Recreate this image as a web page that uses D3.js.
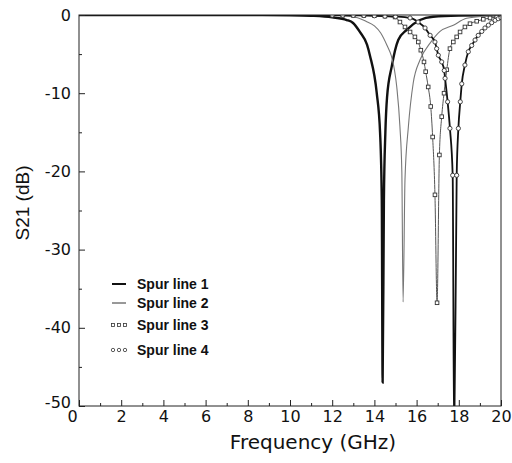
<!DOCTYPE html>
<html lang="en">
<head>
    <meta charset="UTF-8">
    <title>S21 spur lines</title>
    <script src="https://cdnjs.cloudflare.com/ajax/libs/d3/7.8.5/d3.min.js"></script>
    <style>
        body { margin: 0; background: #fff; }
        svg { display: block; }
    </style>
</head>
<body>
    <div id="wrapper"></div>
    <script>
        // values: [frequency GHz, S21 dB]
        const spurLine1 = [
            [0, 0], [8, 0], [10, -0.03], [11, -0.1], [12, -0.3], [12.69, -0.64], [12.99, -1.02],
            [13.32, -2.2], [13.65, -3.8], [13.79, -5.2], [14.11, -9.97], [14.27, -15.1], [14.35, -23.7],
            [14.39, -47], [14.45, -23.7], [14.52, -15], [14.6, -10.5], [14.82, -6.6], [15.13, -3.2],
            [15.53, -1.9], [16.16, -0.64], [16.78, -0.22], [18, -0.08], [20, -0.03]
        ]
        const spurLine2 = [
            [0, 0], [10, 0], [12, -0.05], [12.5, -0.1], [13.2, -0.35], [13.6, -0.8], [14.0, -1.4],
            [14.3, -2.3], [14.6, -3.9], [14.8, -5.2], [14.95, -7], [15.06, -9.2], [15.21, -14.3],
            [15.3, -20], [15.36, -36.7], [15.45, -21], [15.61, -14.3], [15.84, -8.7], [16.16, -5.75],
            [16.64, -3.6], [17.11, -2.1], [17.74, -1.3], [18.37, -0.42], [19.32, -0.13], [20, -0.05]
        ]
        const spurLine3 = [
            [0, 0], [10, 0], [12, -0.02], [12.5, -0.03], [13, -0.04], [13.5, -0.06], [14, -0.08],
            [14.5, -0.15], [14.98, -0.26], [15.21, -0.9], [15.45, -1.53], [15.69, -2.17], [15.92, -2.8],
            [16.08, -3.45], [16.2, -4.5], [16.35, -6.0], [16.43, -7.25], [16.55, -9.2], [16.67, -11.7],
            [16.76, -15.6], [16.87, -23.0], [16.97, -36.8], [17.08, -17.9], [17.19, -13.0], [17.3, -10.0],
            [17.43, -7.0], [17.58, -4.3], [17.74, -3.45], [17.9, -2.8], [18.06, -2.17], [18.29, -1.53],
            [18.53, -1.11], [18.85, -0.8], [19.16, -0.55], [19.48, -0.38], [19.8, -0.26], [20, -0.2]
        ]
        const spurLine4 = [
            [0, 0], [10, 0], [12, -0.02], [12.5, -0.03], [13, -0.05], [13.5, -0.07], [14, -0.1],
            [14.5, -0.15], [15, -0.2], [15.69, -0.38], [16.07, -0.9], [16.4, -1.66], [16.64, -2.6],
            [16.87, -3.45], [16.95, -4.3], [17.03, -5.15], [17.19, -6.0], [17.31, -7.1], [17.35, -8.1],
            [17.47, -11.1], [17.58, -14.5], [17.71, -20.5], [17.78, -55], [17.9, -20.5], [17.98, -14.5],
            [18.07, -11.1], [18.14, -8.8], [18.29, -6.4], [18.45, -4.7], [18.61, -3.9], [18.77, -3.2],
            [18.92, -2.6], [19.09, -2.1], [19.24, -1.66], [19.4, -1.3], [19.56, -0.98], [19.72, -0.68],
            [19.87, -0.47], [20, -0.35]
        ]
        const seriesNames = ['Spur line 1', 'Spur line 2', 'Spur line 3', 'Spur line 4']
        const xTickValues = [0, 2, 4, 6, 8, 10, 12, 14, 16, 18, 20]
        const xMinorValues = [1, 3, 5, 7, 9, 11, 13, 15, 17, 19]
        const yTickValues = [0, -10, -20, -30, -40, -50]
        const yMinorValues = [-5, -15, -25, -35, -45]

        const styles = [
            { stroke: '#111', width: 2.4, marker: null },
            { stroke: '#777', width: 1.1, marker: null },
            { stroke: '#555', width: 1, marker: 'square' },
            { stroke: '#111', width: 1.8, marker: 'circle' }
        ]
        const allSeries = [spurLine1, spurLine2, spurLine3, spurLine4]

        const dimensions = {
            width: 512,
            height: 463,
            margin: { top: 15, right: 11, bottom: 57, left: 79 }
        }
        dimensions.boundedWidth = dimensions.width - dimensions.margin.left - dimensions.margin.right
        dimensions.boundedHeight = dimensions.height - dimensions.margin.top - dimensions.margin.bottom

        const svg = d3.select('#wrapper').append('svg')
            .attr('width', dimensions.width)
            .attr('height', dimensions.height)

        const bounds = svg.append('g')
            .attr('transform', `translate(${dimensions.margin.left},${dimensions.margin.top})`)

        const xScale = d3.scaleLinear().domain([0, 20]).range([0, dimensions.boundedWidth])
        const yScale = d3.scaleLinear().domain([-50, 0]).range([dimensions.boundedHeight, 0])

        bounds.append('clipPath').attr('id', 'plot-clip')
            .append('rect')
            .attr('width', dimensions.boundedWidth)
            .attr('height', dimensions.boundedHeight)

        // curves
        const lineGen = d3.line()
            .x(d => xScale(d[0]))
            .y(d => yScale(d[1]))
            .curve(d3.curveMonotoneX)

        const plot = bounds.append('g').attr('clip-path', 'url(#plot-clip)')

        allSeries.forEach((data, i) => {
            plot.append('path')
                .datum(data)
                .attr('d', lineGen)
                .attr('fill', 'none')
                .attr('stroke', styles[i].stroke)
                .attr('stroke-width', styles[i].width)
        })

        // markers (only where the sweep is drawn with symbols)
        const markerData = (data) => data.filter(d => d[0] >= 11.5)
        plot.append('g').selectAll('rect')
            .data(markerData(spurLine3))
            .join('rect')
            .attr('x', d => xScale(d[0]) - 1.8)
            .attr('y', d => yScale(d[1]) - 1.8)
            .attr('width', 3.6)
            .attr('height', 3.6)
            .attr('fill', '#fff')
            .attr('stroke', '#333')
            .attr('stroke-width', 0.9)
        plot.append('g').selectAll('circle')
            .data(markerData(spurLine4))
            .join('circle')
            .attr('cx', d => xScale(d[0]))
            .attr('cy', d => yScale(d[1]))
            .attr('r', 2.1)
            .attr('fill', '#fff')
            .attr('stroke', '#333')
            .attr('stroke-width', 0.9)

        // frame
        bounds.append('rect')
            .attr('width', dimensions.boundedWidth)
            .attr('height', dimensions.boundedHeight)
            .attr('fill', 'none')
            .attr('stroke', '#222')
            .attr('stroke-width', 1)

        // axes (ticks point inwards), plain hyphen for negatives
        const tickFont = "'DejaVu Sans', sans-serif"
        const plainFormat = d => String(d)
        const xAxisMinor = bounds.append('g')
            .attr('transform', `translate(0,${dimensions.boundedHeight})`)
            .call(d3.axisBottom(xScale).tickValues(xMinorValues).tickSize(-3).tickFormat(''))
        const xAxis = bounds.append('g')
            .attr('transform', `translate(0,${dimensions.boundedHeight})`)
            .call(d3.axisBottom(xScale).tickValues(xTickValues).tickSize(-6).tickPadding(5).tickFormat(plainFormat))
        const yAxisMinor = bounds.append('g')
            .call(d3.axisLeft(yScale).tickValues(yMinorValues).tickSize(-3).tickFormat(''))
        const yAxis = bounds.append('g')
            .call(d3.axisLeft(yScale).tickValues(yTickValues).tickSize(-6).tickPadding(8).tickFormat(plainFormat))

        ;[xAxisMinor, xAxis, yAxisMinor, yAxis].forEach(ax => {
            ax.select('.domain').remove()
            ax.selectAll('line').attr('stroke', '#222')
            ax.selectAll('text')
                .attr('fill', '#111')
                .style('font-family', tickFont)
                .style('font-size', '16px')
        })
        // the "0" on the frequency axis sits a little left of its tick
        xAxis.selectAll('text').filter(d => d === 0).attr('dx', -7)
        // "-50" sits slightly above its tick
        yAxis.selectAll('text').filter(d => d === -50).attr('dy', '0.1em')

        // axis titles
        svg.append('text')
            .attr('x', 313)
            .attr('y', 449)
            .attr('text-anchor', 'middle')
            .style('font-family', tickFont)
            .style('font-size', '20px')
            .attr('fill', '#111')
            .text('Frequency (GHz)')

        svg.append('text')
            .attr('transform', 'translate(29,203) rotate(-90)')
            .attr('text-anchor', 'middle')
            .style('font-family', "'Liberation Sans', Arial, sans-serif")
            .style('font-size', '19px')
            .attr('fill', '#111')
            .text('S21 (dB)')

        // legend
        const legendRows = [284, 303, 325, 350]
        const legend = svg.append('g')
        seriesNames.forEach((name, i) => {
            const row = legend.append('g').attr('transform', `translate(112,${legendRows[i]})`)
            const st = styles[i]
            if (st.marker === 'square') {
                [1, 7, 13].forEach(x => row.append('rect')
                    .attr('x', x - 1.5).attr('y', -1.5).attr('width', 3).attr('height', 3)
                    .attr('fill', '#fff').attr('stroke', '#333').attr('stroke-width', 0.8))
            } else if (st.marker === 'circle') {
                [1, 7, 13].forEach(x => row.append('circle')
                    .attr('cx', x).attr('cy', 0).attr('r', 1.7)
                    .attr('fill', '#fff').attr('stroke', '#333').attr('stroke-width', 0.8))
            } else {
                row.append('line')
                    .attr('x1', 0).attr('x2', 14)
                    .attr('stroke', i === 0 ? '#111' : '#333')
                    .attr('stroke-width', i === 0 ? 2 : 1)
            }
            row.append('text')
                .attr('x', 25)
                .attr('dy', '0.35em')
                .style('font-family', "'Liberation Sans', Arial, sans-serif")
                .style('font-size', '14px')
                .style('font-weight', 'bold')
                .attr('fill', '#111')
                .text(name)
        })
    </script>
</body>
</html>
